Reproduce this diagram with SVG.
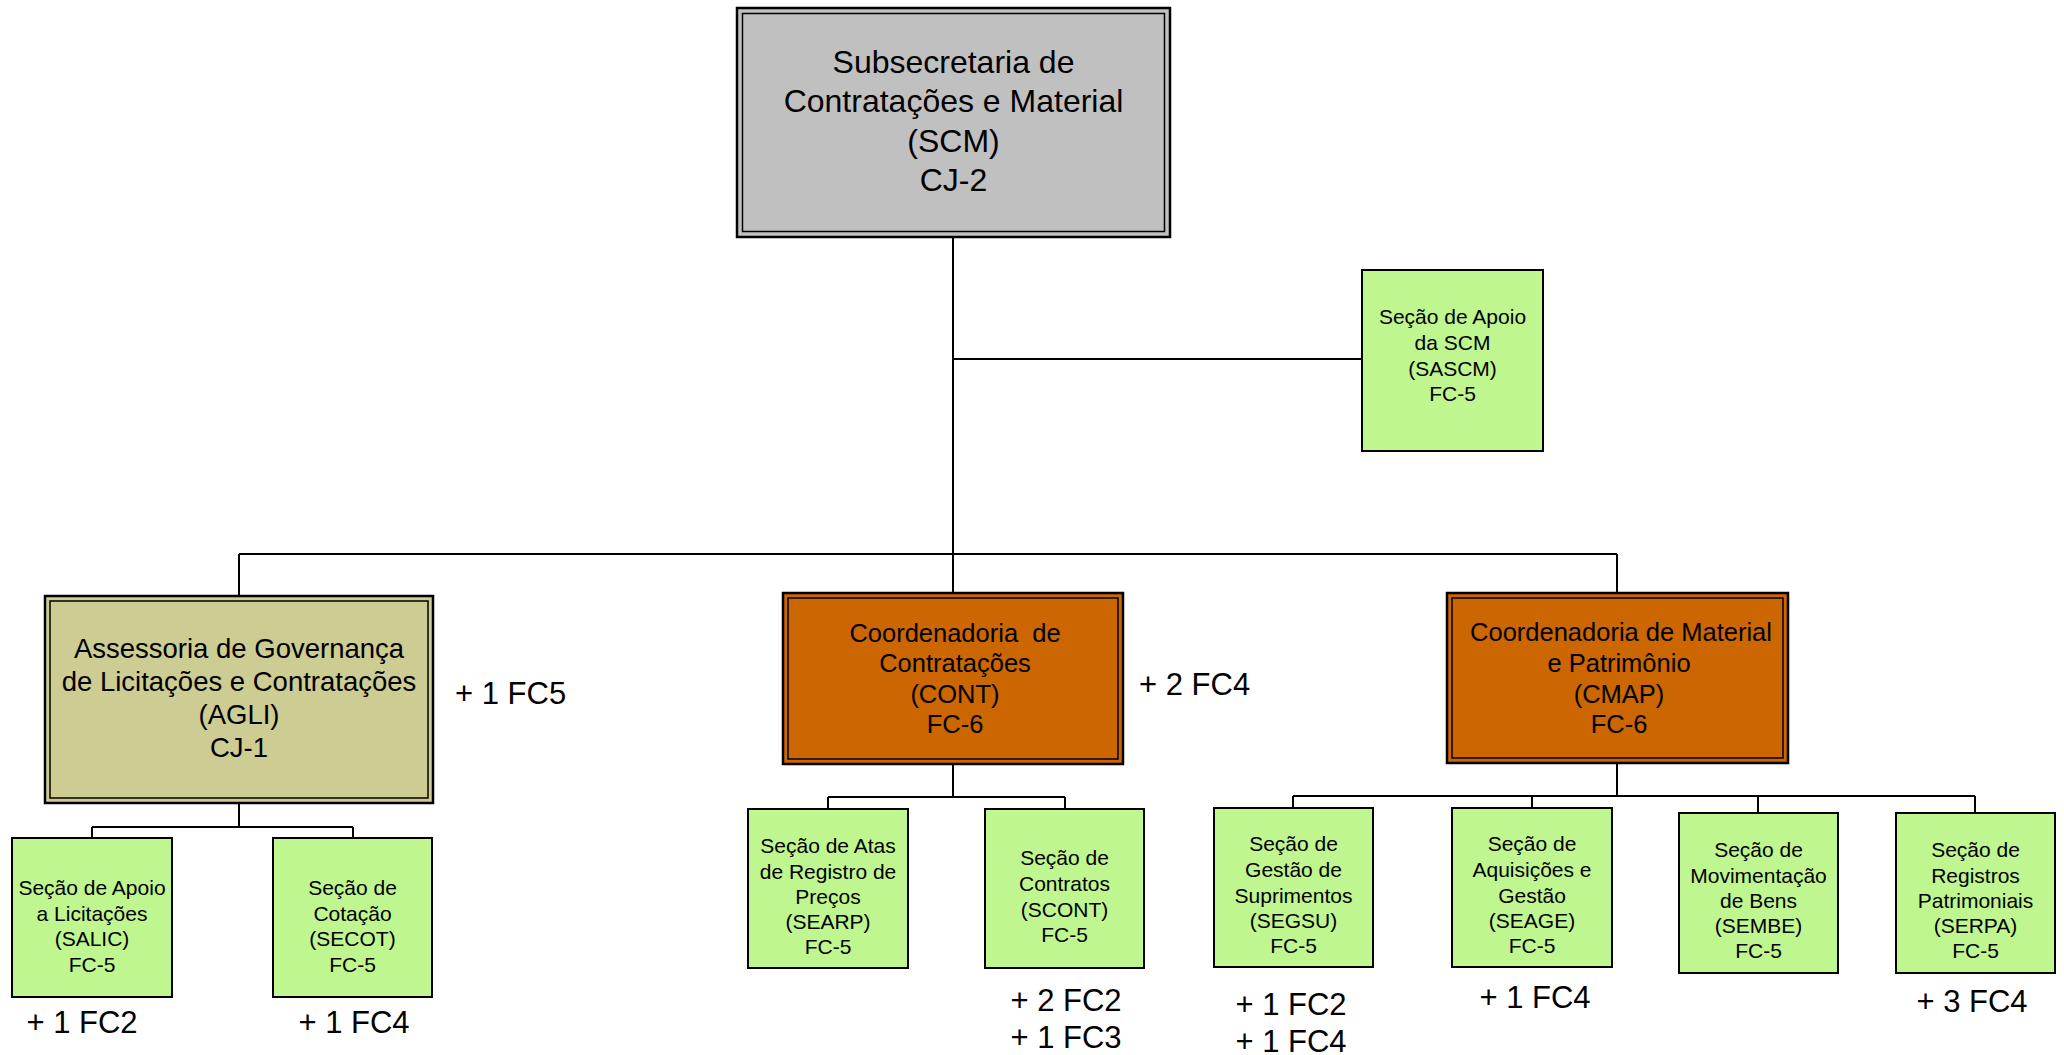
<svg xmlns="http://www.w3.org/2000/svg" width="2064" height="1055" viewBox="0 0 2064 1055">
<style>
text{font-family:"Liberation Sans",Arial,sans-serif;fill:#000;text-anchor:middle}
.big{font-size:32px}
.mid{font-size:27.5px}
.coord{font-size:25.5px}
.sec{font-size:21px}
.extra{font-size:31px}
.st{text-anchor:start}
.edge{stroke:#000;stroke-width:2;fill:none}
.dbl{stroke:#000;stroke-width:2.5}
.inner{fill:none;stroke:#000;stroke-width:1.5}
.green{fill:#BFF68F;stroke:#000;stroke-width:2}
</style>
<rect width="2064" height="1055" fill="#fff"/>
<g id="connectors">
<path class="edge" d="M953 237V554M953 359H1362M239 554H1617M239 554V596M953 554V593M1617 554V593"/>
<path class="edge" d="M239 803V827M92 827H353M92 827V838M353 827V838"/>
<path class="edge" d="M953 764V797M828 797H1065M828 797V809M1065 797V809"/>
<path class="edge" d="M1617 763V796M1293 796H1975M1293 796V808M1532 796V808M1758 796V813M1975 796V813"/>
</g>
<g id="scm">
<rect class="dbl" x="737" y="8" width="433" height="229" fill="#C0C0C0"/>
<rect class="inner" x="742.5" y="13.5" width="422" height="218"/>
<text class="big" x="953.5" y="73">Subsecretaria de</text>
<text class="big" x="953.5" y="112">Contratações e Material</text>
<text class="big" x="953.5" y="152">(SCM)</text>
<text class="big" x="953.5" y="191">CJ-2</text>
</g>
<g id="sascm">
<rect class="green" x="1362" y="270" width="181" height="181"/>
<text class="sec" x="1452.5" y="324">Seção de Apoio</text>
<text class="sec" x="1452.5" y="350">da SCM</text>
<text class="sec" x="1452.5" y="375.5">(SASCM)</text>
<text class="sec" x="1452.5" y="401">FC-5</text>
</g>
<g id="agli">
<rect class="dbl" x="45" y="596" width="388" height="207" fill="#CCCC93"/>
<rect class="inner" x="50" y="601" width="378" height="197"/>
<text class="mid" x="239" y="658">Assessoria de Governança</text>
<text class="mid" x="239" y="691">de Licitações e Contratações</text>
<text class="mid" x="239" y="724">(AGLI)</text>
<text class="mid" x="239" y="757">CJ-1</text>
<text class="extra st" x="455" y="704">+ 1 FC5</text>
</g>
<g id="cont">
<rect class="dbl" x="783" y="593" width="340" height="171" fill="#CC6600"/>
<rect class="inner" x="788" y="598" width="330" height="161"/>
<text class="coord" x="955" y="642" xml:space="preserve">Coordenadoria  de</text>
<text class="coord" x="955" y="672">Contratações</text>
<text class="coord" x="955" y="703">(CONT)</text>
<text class="coord" x="955" y="733">FC-6</text>
<text class="extra st" x="1139" y="695">+ 2 FC4</text>
</g>
<g id="cmap">
<rect class="dbl" x="1447" y="593" width="341" height="170" fill="#CC6600"/>
<rect class="inner" x="1452" y="598" width="331" height="160"/>
<text class="coord" x="1621" y="641">Coordenadoria de Material</text>
<text class="coord" x="1619" y="672">e Patrimônio</text>
<text class="coord" x="1619" y="703">(CMAP)</text>
<text class="coord" x="1619" y="733">FC-6</text>
</g>
<g id="salic">
<rect class="green" x="12" y="838" width="160" height="159"/>
<text class="sec" x="92" y="895">Seção de Apoio</text>
<text class="sec" x="92" y="920.5">a Licitações</text>
<text class="sec" x="92" y="946">(SALIC)</text>
<text class="sec" x="92" y="972">FC-5</text>
<text class="extra" x="82" y="1033">+ 1 FC2</text>
</g>
<g id="secot">
<rect class="green" x="273" y="838" width="159" height="159"/>
<text class="sec" x="352.5" y="895">Seção de</text>
<text class="sec" x="352.5" y="920.5">Cotação</text>
<text class="sec" x="352.5" y="946">(SECOT)</text>
<text class="sec" x="352.5" y="972">FC-5</text>
<text class="extra" x="354" y="1033">+ 1 FC4</text>
</g>
<g id="searp">
<rect class="green" x="748" y="809" width="160" height="159"/>
<text class="sec" x="828" y="853">Seção de Atas</text>
<text class="sec" x="828" y="878.5">de Registro de</text>
<text class="sec" x="828" y="903.5">Preços</text>
<text class="sec" x="828" y="929">(SEARP)</text>
<text class="sec" x="828" y="954">FC-5</text>
</g>
<g id="scont">
<rect class="green" x="985" y="809" width="159" height="159"/>
<text class="sec" x="1064.5" y="865">Seção de</text>
<text class="sec" x="1064.5" y="891">Contratos</text>
<text class="sec" x="1064.5" y="916.5">(SCONT)</text>
<text class="sec" x="1064.5" y="942">FC-5</text>
<text class="extra" x="1066" y="1011">+ 2 FC2</text>
<text class="extra" x="1066" y="1048">+ 1 FC3</text>
</g>
<g id="segsu">
<rect class="green" x="1214" y="808" width="159" height="159"/>
<text class="sec" x="1293.5" y="851">Seção de</text>
<text class="sec" x="1293.5" y="877">Gestão de</text>
<text class="sec" x="1293.5" y="902.5">Suprimentos</text>
<text class="sec" x="1293.5" y="928">(SEGSU)</text>
<text class="sec" x="1293.5" y="953">FC-5</text>
<text class="extra" x="1291" y="1015">+ 1 FC2</text>
<text class="extra" x="1291" y="1052">+ 1 FC4</text>
</g>
<g id="seage">
<rect class="green" x="1452" y="808" width="160" height="159"/>
<text class="sec" x="1532" y="851">Seção de</text>
<text class="sec" x="1532" y="877">Aquisições e</text>
<text class="sec" x="1532" y="902.5">Gestão</text>
<text class="sec" x="1532" y="928">(SEAGE)</text>
<text class="sec" x="1532" y="953">FC-5</text>
<text class="extra" x="1535" y="1008">+ 1 FC4</text>
</g>
<g id="sembe">
<rect class="green" x="1679" y="813" width="159" height="160"/>
<text class="sec" x="1758.5" y="857">Seção de</text>
<text class="sec" x="1758.5" y="882.5">Movimentação</text>
<text class="sec" x="1758.5" y="908">de Bens</text>
<text class="sec" x="1758.5" y="933">(SEMBE)</text>
<text class="sec" x="1758.5" y="958">FC-5</text>
</g>
<g id="serpa">
<rect class="green" x="1896" y="813" width="159" height="160"/>
<text class="sec" x="1975.5" y="857">Seção de</text>
<text class="sec" x="1975.5" y="882.5">Registros</text>
<text class="sec" x="1975.5" y="908">Patrimoniais</text>
<text class="sec" x="1975.5" y="933">(SERPA)</text>
<text class="sec" x="1975.5" y="958">FC-5</text>
<text class="extra" x="1972" y="1012">+ 3 FC4</text>
</g>
</svg>
